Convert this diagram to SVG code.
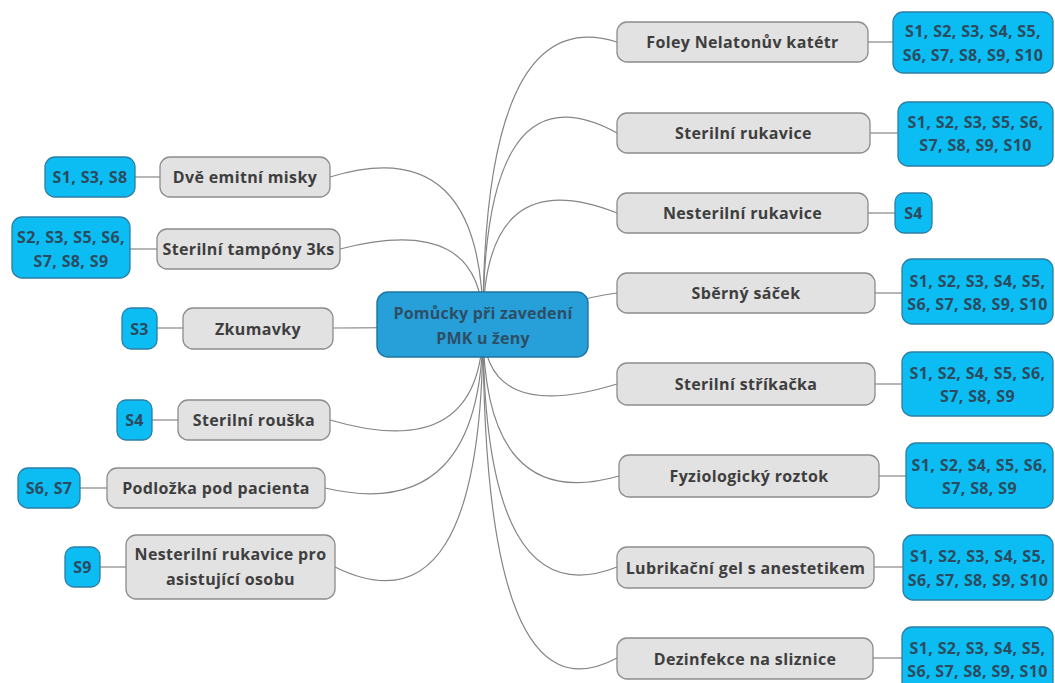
<svg xmlns="http://www.w3.org/2000/svg" width="1055" height="683" viewBox="0 0 1055 683">
  <style>
    .bg { fill: #ffffff; }
    .item rect { fill: #e2e2e2; stroke: #8c8c8c; stroke-width: 1.3; }
    .item text { fill: #3e3e3e; }
    .tag rect { fill: #0bbdf3; stroke: #2b7ea6; stroke-width: 1.3; }
    .tag text { fill: #2c4b5e; }
    .root rect { fill: #279fd9; stroke: #1f74a0; stroke-width: 1.4; }
    .root text { fill: #2d4f66; letter-spacing: 0.2px; }
    text { font-family: "Open Sans", "Noto Sans", "DejaVu Sans", sans-serif; font-size: 16px; font-weight: 700; letter-spacing: 0.35px; text-anchor: middle; dominant-baseline: central; }
    .connectors path { fill: none; stroke: #858585; stroke-width: 1.2; }
  </style>
  <rect class="bg" x="0" y="0" width="1055" height="683"/>

  <!-- branches from the central topic, drawn underneath every node -->
  <g class="connectors">
    <!-- right branches -->
    <path d="M483 325 Q483 0 617 42"/>
    <path d="M483 325 Q483 60 617 133"/>
    <path d="M483 325 Q483 160 617 213"/>
    <path d="M560 306 Q592 296 617 293"/>
    <path d="M483 325 Q483 425 617 384"/>
    <path d="M483 325 Q483 515 619 476"/>
    <path d="M483 325 Q483 620 617 567"/>
    <path d="M483 325 Q483 730 617 658"/>
    <!-- left branches -->
    <path d="M483 325 Q483 130 330 177"/>
    <path d="M483 325 Q483 212 340 249"/>
    <path d="M483 325 Q483 327 333 328"/>
    <path d="M483 325 Q483 465 330 420"/>
    <path d="M483 325 Q483 525 325 488"/>
    <path d="M483 325 Q483 640 335 567"/>
    <!-- item to tag links -->
    <path d="M868 42 H893"/>
    <path d="M870 133 H898"/>
    <path d="M868 213 H895"/>
    <path d="M875 293 H902"/>
    <path d="M875 384 H902"/>
    <path d="M879 476 H906"/>
    <path d="M874 567 H903"/>
    <path d="M873 658 H902"/>
    <path d="M135 177 H160"/>
    <path d="M130 249 H157"/>
    <path d="M157 328 H183"/>
    <path d="M152 420 H178"/>
    <path d="M80 488 H107"/>
    <path d="M100 567 H126"/>
  </g>

  <!-- central topic -->
  <g id="root" class="root">
    <rect x="377" y="292" width="211" height="65" rx="11"/>
    <text x="483" y="313">Pomůcky při zavedení</text>
    <text x="483" y="338">PMK u ženy</text>
  </g>

  <!-- right side items -->
  <g id="foley" class="item">
    <rect x="617" y="22" width="251" height="40" rx="10"/>
    <text x="742.5" y="42">Foley Nelatonův katétr</text>
  </g>
  <g id="foley-tag" class="tag">
    <rect x="893" y="12" width="160" height="61" rx="10"/>
    <text x="973" y="31">S1, S2, S3, S4, S5,</text>
    <text x="973" y="55">S6, S7, S8, S9, S10</text>
  </g>

  <g id="sterilni-rukavice" class="item">
    <rect x="617" y="113" width="253" height="40" rx="10"/>
    <text x="743.5" y="133">Sterilní rukavice</text>
  </g>
  <g id="sterilni-rukavice-tag" class="tag">
    <rect x="898" y="102" width="155" height="64" rx="10"/>
    <text x="975.5" y="122">S1, S2, S3, S5, S6,</text>
    <text x="975.5" y="145">S7, S8, S9, S10</text>
  </g>

  <g id="nesterilni-rukavice" class="item">
    <rect x="617" y="193" width="251" height="40" rx="10"/>
    <text x="742.5" y="213">Nesterilní rukavice</text>
  </g>
  <g id="nesterilni-rukavice-tag" class="tag">
    <rect x="895" y="193" width="37" height="40" rx="9"/>
    <text x="913.5" y="213">S4</text>
  </g>

  <g id="sberny-sacek" class="item">
    <rect x="617" y="273" width="258" height="40" rx="10"/>
    <text x="746" y="293">Sběrný sáček</text>
  </g>
  <g id="sberny-sacek-tag" class="tag">
    <rect x="902" y="259" width="151" height="65" rx="10"/>
    <text x="977.5" y="281">S1, S2, S3, S4, S5,</text>
    <text x="977.5" y="304">S6, S7, S8, S9, S10</text>
  </g>

  <g id="sterilni-strikacka" class="item">
    <rect x="617" y="363" width="258" height="42" rx="10"/>
    <text x="746" y="384">Sterilní stříkačka</text>
  </g>
  <g id="sterilni-strikacka-tag" class="tag">
    <rect x="902" y="352" width="151" height="64" rx="10"/>
    <text x="977.5" y="373">S1, S2, S4, S5, S6,</text>
    <text x="977.5" y="396">S7, S8, S9</text>
  </g>

  <g id="fyziologicky-roztok" class="item">
    <rect x="619" y="455" width="260" height="42" rx="10"/>
    <text x="749" y="476">Fyziologický roztok</text>
  </g>
  <g id="fyziologicky-roztok-tag" class="tag">
    <rect x="906" y="443" width="147" height="65" rx="10"/>
    <text x="979.5" y="465">S1, S2, S4, S5, S6,</text>
    <text x="979.5" y="488">S7, S8, S9</text>
  </g>

  <g id="lubrikacni-gel" class="item">
    <rect x="617" y="547" width="257" height="41" rx="10"/>
    <text x="745.5" y="567.5">Lubrikační gel s anestetikem</text>
  </g>
  <g id="lubrikacni-gel-tag" class="tag">
    <rect x="903" y="535" width="150" height="65" rx="10"/>
    <text x="978" y="556">S1, S2, S3, S4, S5,</text>
    <text x="978" y="580">S6, S7, S8, S9, S10</text>
  </g>

  <g id="dezinfekce" class="item">
    <rect x="617" y="638" width="256" height="41" rx="10"/>
    <text x="745" y="658.5">Dezinfekce na sliznice</text>
  </g>
  <g id="dezinfekce-tag" class="tag">
    <rect x="902" y="627" width="151" height="65" rx="10"/>
    <text x="977.5" y="648">S1, S2, S3, S4, S5,</text>
    <text x="977.5" y="671">S6, S7, S8, S9, S10</text>
  </g>

  <!-- left side items -->
  <g id="emitni-misky" class="item">
    <rect x="160" y="157" width="170" height="40" rx="10"/>
    <text x="245" y="177">Dvě emitní misky</text>
  </g>
  <g id="emitni-misky-tag" class="tag">
    <rect x="45" y="157" width="90" height="40" rx="10"/>
    <text x="90" y="177">S1, S3, S8</text>
  </g>

  <g id="tampony" class="item">
    <rect x="157" y="229" width="183" height="40" rx="10"/>
    <text x="248.5" y="249">Sterilní tampóny 3ks</text>
  </g>
  <g id="tampony-tag" class="tag">
    <rect x="12" y="217" width="118" height="61" rx="10"/>
    <text x="71" y="237">S2, S3, S5, S6,</text>
    <text x="71" y="261">S7, S8, S9</text>
  </g>

  <g id="zkumavky" class="item">
    <rect x="183" y="308" width="150" height="41" rx="10"/>
    <text x="258" y="328.5">Zkumavky</text>
  </g>
  <g id="zkumavky-tag" class="tag">
    <rect x="122" y="308" width="35" height="41" rx="9"/>
    <text x="139.5" y="328.5">S3</text>
  </g>

  <g id="rouska" class="item">
    <rect x="178" y="400" width="152" height="40" rx="10"/>
    <text x="254" y="420">Sterilní rouška</text>
  </g>
  <g id="rouska-tag" class="tag">
    <rect x="117" y="400" width="35" height="40" rx="9"/>
    <text x="134.5" y="420">S4</text>
  </g>

  <g id="podlozka" class="item">
    <rect x="107" y="468" width="218" height="40" rx="10"/>
    <text x="216" y="488">Podložka pod pacienta</text>
  </g>
  <g id="podlozka-tag" class="tag">
    <rect x="18" y="468" width="62" height="40" rx="10"/>
    <text x="49" y="488">S6, S7</text>
  </g>

  <g id="rukavice-asistent" class="item">
    <rect x="126" y="535" width="209" height="64" rx="10"/>
    <text x="230.5" y="554">Nesterilní rukavice pro</text>
    <text x="230.5" y="579">asistující osobu</text>
  </g>
  <g id="rukavice-asistent-tag" class="tag">
    <rect x="65" y="547" width="35" height="40" rx="9"/>
    <text x="82.5" y="567">S9</text>
  </g>
</svg>
